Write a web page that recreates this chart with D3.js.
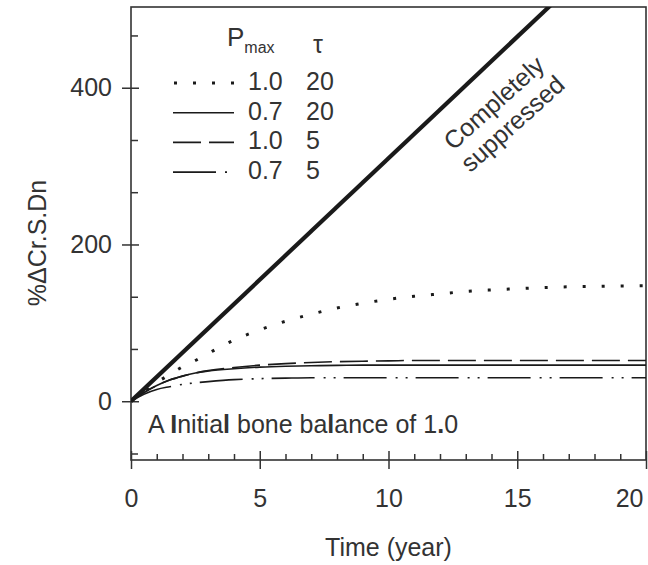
<!DOCTYPE html>
<html>
<head>
<meta charset="utf-8">
<script src="https://cdn.jsdelivr.net/npm/d3@7"></script>
<style>
  body { margin: 0; background: #fff; }
  svg { display: block; }
  text { font-family: "Liberation Sans", Arial, sans-serif; fill: #333; }
  .domain { display: none; }
</style>
</head>
<body>
<div id="chart"></div>
<script>
// time axis (years) and the four model curves
var years    = [0, 0.5, 1, 1.5, 2, 2.5, 3, 4, 5, 6, 7, 8, 9, 10, 11, 12, 13, 14, 15, 16, 17, 18, 19, 20];
var p10t20   = [0, 12, 24, 34, 44, 52, 61, 78, 91, 102, 111, 119, 125, 130, 134, 137, 140, 142, 143.5, 145, 146, 146.5, 147, 147.5];
var p07t20   = [0, 11, 20, 27, 32, 36, 38.5, 41.5, 43.5, 44.7, 45.3, 45.7, 46, 46, 46, 46, 46, 46, 46, 46, 46, 46, 46, 46];
var p10t5    = [0, 11, 20, 27, 32, 36, 39, 43, 46, 48, 49.5, 50.5, 51, 51.5, 52, 52, 52, 52, 52, 52, 52, 52, 52, 52];
var p07t5    = [0, 9, 15, 18.5, 21.5, 23.5, 25, 27.5, 28.8, 29.5, 30, 30, 30, 30, 30, 30, 30, 30, 30, 30, 30, 30, 30, 30];
// completely suppressed: straight line
var supYears = [0, 20];
var supVals  = [0, 620];

var xMajor = [0, 5, 10, 15, 20];
var xMinor = [1, 2, 3, 4, 6, 7, 8, 9, 11, 12, 13, 14, 16, 17, 18, 19];
var yMajor = [0, 200, 400];
var yMinor = [-66.7, 66.7, 133.3, 266.7, 333.3, 466.7];

var legendRows = [
    {pmax: "1.0", tau: "20", dash: "3,16", width: 3},
    {pmax: "0.7", tau: "20", dash: null, width: 1.6},
    {pmax: "1.0", tau: "5", dash: "28,8", width: 1.6},
    {pmax: "0.7", tau: "5", dash: "43,9,2,8,2,8", width: 1.6}
];
var seriesVals = [p10t20, p07t20, p10t5, p07t5];

var W = 648, H = 565;
var mLeft = 131, mRight = 646, mTop = 7, mBottom = 460;
var fs = "25px";

var svg = d3.select("#chart").append("svg")
    .attr("width", W)
    .attr("height", H);

var x = d3.scaleLinear().domain([0, 20]).range([mLeft, mRight]);
var y = d3.scaleLinear().domain([-75, 503]).range([mBottom, mTop]);

svg.append("clipPath").attr("id", "plotClip")
    .append("rect")
    .attr("x", mLeft).attr("y", mTop)
    .attr("width", mRight - mLeft).attr("height", mBottom - mTop);

/* axes */
svg.append("g")
    .attr("transform", "translate(0," + mBottom + ")")
    .call(d3.axisBottom(x).tickValues(xMinor).tickSize(-6).tickFormat(""));

var xAxis = svg.append("g")
    .attr("transform", "translate(0," + mBottom + ")")
    .call(d3.axisBottom(x).tickValues(xMajor).tickSize(9).tickPadding(20).tickFormat(d3.format("d")));
xAxis.selectAll(".tick line").attr("y1", -9);
xAxis.selectAll(".tick text").style("font-size", fs).style("fill", "#333");
xAxis.selectAll(".tick text").filter(function(d) { return d == 20; })
    .attr("text-anchor", "end").attr("dx", -3);

svg.append("g")
    .attr("transform", "translate(" + mLeft + ",0)")
    .call(d3.axisLeft(y).tickValues(yMinor).tickSize(-7).tickFormat(""));

var yAxis = svg.append("g")
    .attr("transform", "translate(" + mLeft + ",0)")
    .call(d3.axisLeft(y).tickValues(yMajor).tickSize(9).tickPadding(10).tickFormat(d3.format("d")));
yAxis.selectAll(".tick line").attr("x1", 8);
yAxis.selectAll(".tick text").style("font-size", fs).style("fill", "#333");

svg.selectAll(".tick line").attr("stroke", "#333").attr("stroke-width", 1.5);

// frame
svg.append("rect")
    .attr("x", mLeft).attr("y", mTop)
    .attr("width", mRight - mLeft).attr("height", mBottom - mTop)
    .attr("fill", "none")
    .attr("stroke", "#333")
    .attr("stroke-width", 1.6);

/* curves */
var plot = svg.append("g").attr("clip-path", "url(#plotClip)");

var line = d3.line()
    .x(function(d) { return x(d[0]); })
    .y(function(d) { return y(d[1]); })
    .curve(d3.curveMonotoneX);

seriesVals.forEach(function(vals, i) {
    var pts = years.map(function(t, j) { return [t, vals[j]]; });
    plot.append("path")
        .datum(pts)
        .attr("d", line)
        .attr("fill", "none")
        .attr("stroke", "#1a1a1a")
        .attr("stroke-width", legendRows[i].width)
        .attr("stroke-dasharray", legendRows[i].dash);
});

plot.append("path")
    .datum(supYears.map(function(t, j) { return [t, supVals[j]]; }))
    .attr("d", d3.line().x(function(d) { return x(d[0]); }).y(function(d) { return y(d[1]); }))
    .attr("fill", "none")
    .attr("stroke", "#1a1a1a")
    .attr("stroke-width", 4.2);

/* legend */
var legend = svg.append("g").attr("class", "legend").style("font-size", fs);

var head = legend.append("text").attr("x", 227).attr("y", 46);
head.append("tspan").text("P").style("font-size", "26px");
head.append("tspan").text("max").style("font-size", "16px").attr("dy", 7);
legend.append("text")
    .attr("x", 318).attr("y", 53)
    .attr("text-anchor", "middle")
    .text("τ");

var rows = legend.selectAll(".row")
    .data(legendRows)
    .enter().append("g")
    .attr("class", "row")
    .attr("transform", function(d, i) { return "translate(0," + (90 + i * 29.7) + ")"; });

rows.append("line")
    .attr("x1", function(d) { return d.width > 2 ? 174 : 173; })
    .attr("x2", function(d, i) { return i == 3 ? 228 : 234; })
    .attr("y1", -7).attr("y2", -7)
    .attr("stroke", "#1a1a1a")
    .attr("stroke-width", function(d) { return d.width; })
    .attr("stroke-dasharray", function(d) { return d.dash; });

rows.append("text").attr("x", 248).text(function(d) { return d.pmax; });
rows.append("text").attr("x", 306).text(function(d) { return d.tau; });

/* annotations */
var ann = svg.append("text")
    .attr("transform", "translate(503,113) rotate(-42)")
    .attr("text-anchor", "middle")
    .style("font-size", fs);
ann.append("tspan").attr("x", 0).attr("y", -5).text("Completely");
ann.append("tspan").attr("x", 0).attr("y", 23).text("suppressed");

var note = svg.append("text")
    .attr("x", 148).attr("y", 433)
    .style("font-size", fs);
note.append("tspan").text("A ");
note.append("tspan").text("I").style("font-weight", "bold");
note.append("tspan").text("nitia");
note.append("tspan").text("l").style("font-weight", "bold");
note.append("tspan").text(" bone ba");
note.append("tspan").text("l").style("font-weight", "bold");
note.append("tspan").text("ance of 1");
note.append("tspan").text(".").style("font-weight", "bold");
note.append("tspan").text("0");

/* axis titles */
svg.append("text")
    .attr("x", (mLeft + mRight) / 2)
    .attr("y", 556)
    .attr("text-anchor", "middle")
    .style("font-size", fs)
    .text("Time (year)");

svg.append("text")
    .attr("transform", "translate(46,243) rotate(-90)")
    .attr("text-anchor", "middle")
    .style("font-size", fs)
    .text("%ΔCr.S.Dn");
</script>
</body>
</html>
